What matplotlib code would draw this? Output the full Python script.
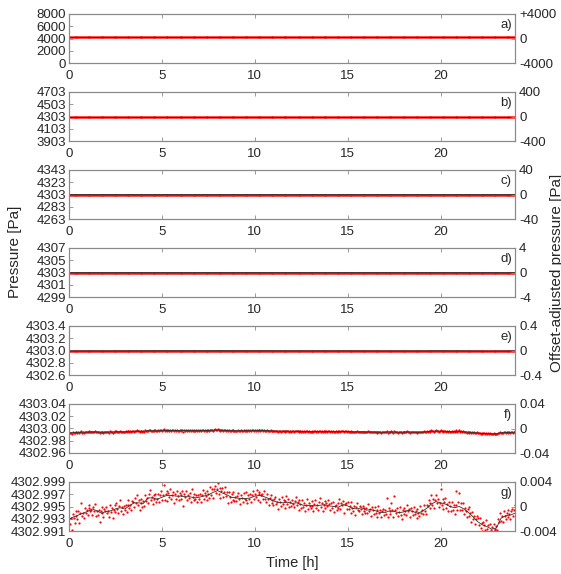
import numpy as np
import matplotlib
matplotlib.use('Agg')
import matplotlib.pyplot as plt

plt.rcParams['font.family'] = ['Liberation Sans', 'DejaVu Sans']

# smoothed pressure, offset from 4302.995 Pa in mPa, one value every 15 min (0..24 h)
line_mpa = [-2.1, -1.7, -1.4, -1.1, -0.8, -0.4, -0.7, -1.1, -0.8, -0.7, -0.4, -0.2,
            -0.4, 0.1, 0.6, 0.6, 0.5, 1.4, 1.4, 1.2, 1.5, 1.8, 1.8, 1.7,
            1.7, 1.6, 1.6, 1.4, 1.5, 1.7, 1.9, 2.3, 2.6, 2.2, 1.9, 1.5,
            1.4, 1.3, 1.3, 1.4, 1.7, 1.8, 1.6, 1.3, 0.9, 0.7, 0.6, 0.7,
            0.5, 0.6, 0.3, 0.1, 0.2, 0.1, 0.2, 0.3, 0.1, 0.0, -0.1, 0.3,
            0.1, -0.3, -0.4, -0.2, -0.6, -0.5, -0.7, -1.0, -1.0, -0.7, -0.8, -1.0,
            -0.9, -0.6, -0.8, -1.1, -0.8, -0.3, 0.4, 0.8, 0.6, 0.4, 0.0, -0.2,
            0.0, -0.4, -1.0, -1.7, -2.5, -3.0, -3.3, -3.7, -3.5, -1.9, -1.5, -1.4,
            -1.1]

# raw samples, offset from 4302.995 Pa in mPa, every 3 min (20 per hour)
raw_mpa = [
    -1.8, -2.8, -1.8, -3.8, -1.3, -1.9, -2.7, -0.7, -1.5, -2.0, -0.8, -2.7, -1.1, 0.6, -1.6, -1.0, -1.9, -0.3, -1.0, -0.5,
    -1.4, -0.3, 0.2, -0.8, -0.5, -1.4, 0.0, -0.8, 0.4, -1.5, -0.7, -1.4, -0.5, -2.5, -0.8, -0.1, -1.1, -1.7, -0.4, -0.7,
    -0.1, -1.1, -0.7, -1.7, 0.3, -0.9, -0.2, -1.8, -0.5, 0.2, -0.9, 0.6, -0.4, -1.0, 0.1, 1.1, -0.7, -0.1, -1.3, 0.1,
    -0.6, 0.3, -0.9, 0.2, 1.0, -0.3, 0.3, -0.6, 0.9, 0.7, 0.0, 1.4, 0.5, 1.8, 0.3, 1.0, -0.5, 1.2, 0.5, 0.0,
    0.9, 0.1, 1.8, 0.9, 1.4, 0.6, 2.0, 2.7, 1.1, 1.6, 0.4, 1.9, 1.3, 2.1, 0.7, 1.2, 2.1, 0.7, 1.8, 2.5,
    1.1, 1.9, 3.5, 1.1, 2.0, 2.5, 0.9, 2.2, 1.6, 2.9, 1.3, 1.9, 2.4, 0.6, 2.0, 1.3, 2.6, 1.7, 1.0, 2.2,
    1.9, 1.2, 2.5, 0.1, 2.1, 1.6, 2.6, 1.0, 1.9, 1.4, 2.2, 0.7, 2.8, 1.6, 1.1, 2.1, 1.3, 1.9, 0.7, 1.8,
    1.2, 2.1, 0.8, 1.8, 2.7, 1.2, 2.2, 1.7, 1.0, 2.6, 2.0, 1.4, 3.2, 1.9, 2.8, 1.4, 2.8, 3.4, 2.2, 2.8,
    3.9, 2.1, 3.1, 1.4, 2.5, 3.1, 1.5, 2.4, 3.2, 1.7, 2.4, 0.6, 2.4, 1.6, 0.8, 2.1, 1.1, 2.4, 0.9, 1.6,
    0.9, 1.7, 2.2, 1.2, 0.4, 1.8, 1.4, 0.7, 2.2, 1.3, 1.0, 2.4, 0.5, 1.8, 1.3, 2.0, 0.8, 1.8, 2.6, 1.3,
    2.1, 1.5, 2.7, 1.1, 2.0, 2.4, 0.7, 1.8, 2.1, 1.2, 2.6, 1.3, 0.8, 2.0, 1.3, 0.3, 1.4, 1.8, 0.5, 1.1,
    0.3, 1.2, 1.5, 0.4, 0.7, -0.4, 1.2, 0.7, 0.1, 1.5, 0.4, 1.0, -0.2, 0.9, 1.7, 0.4, 1.3, -0.1, 0.7, 0.1,
    1.0, 0.4, -0.1, 0.9, 1.5, 0.2, 0.7, -0.6, 1.0, 0.4, -0.2, 1.1, -0.1, 0.6, -0.7, 0.3, 1.3, -0.4, 0.5, 0.1,
    -0.2, 0.9, 0.1, -0.7, 0.4, 1.0, -0.2, 0.3, -0.5, 0.7, 1.4, 0.0, 0.6, -0.7, 0.3, 0.9, -0.2, 0.5, 0.1, 1.0,
    0.4, -0.5, 0.6, -0.2, 0.8, -0.9, 0.1, 0.3, -0.6, 0.6, -0.2, 1.2, -0.4, 0.5, 0.2, 0.9, -1.0, 0.4, 0.6, -0.4,
    0.7, -0.4, 0.1, 0.7, -1.0, -0.2, -0.7, 0.1, -1.4, -0.1, 0.5, -0.5, -0.8, 0.1, -0.4, -1.3, 0.1, -0.7, -0.3, -1.1,
    -0.2, -1.1, 0.4, -0.8, -0.4, -1.5, -0.1, -0.6, -1.3, 0.0, -1.0, -0.5, -1.7, 0.1, -1.1, -0.6, -1.7, -0.8, -0.4, -1.4,
    -0.5, -1.3, 1.4, -1.7, -0.2, -0.8, -1.2, 0.5, -0.5, -1.7, 1.7, -0.5, -1.1, -0.3, -1.6, -0.9, -0.1, -1.4, -2.0, -0.6,
    -1.3, -0.3, -0.8, -1.4, 0.3, -0.8, -0.4, -1.7, -0.3, -0.7, -1.4, -0.1, -1.3, -0.8, -1.9, -0.4, -1.0, -1.5, 0.1, -1.0,
    -0.5, -1.3, 0.3, -0.7, -1.2, 0.3, 0.1, 1.1, -0.2, 0.5, 1.8, 0.2, 1.3, -0.3, 1.0, 1.9, 0.5, 1.2, -0.1, 0.6,
    2.9, 0.2, 1.2, -0.4, 0.7, 1.4, -0.2, 0.4, -0.8, 0.7, 0.1, -0.7, 0.8, -0.5, 0.2, -1.2, 2.5, 0.3, -0.5, 0.8,
    2.2, -0.6, 0.5, -0.5, 0.6, -1.2, -0.2, -0.7, -1.7, -0.4, 0.0, -1.6, -1.1, -2.6, -0.9, -2.0, -1.5, -2.8, -2.1, -1.5,
    -1.9, -3.0, -1.8, -3.5, -2.7, -4.0, -2.6, -3.1, -3.8, -2.2, -3.6, -3.0, -4.4, -2.9, -3.9, -3.4, -4.2, -2.8, -3.6, -3.9,
    -3.2, -3.9, -2.1, -2.5, -1.0, -2.3, -1.6, -2.5, -0.8, -1.5, -2.1, -1.1, -0.5, -1.7, -1.2, -2.1, -0.8, -0.4, -1.6, -0.6,
    0.3]

base = 4302.995
t_line = np.linspace(0, 24, len(line_mpa))
t_raw = np.linspace(0, 24, len(raw_mpa))
p_line = base + np.array(line_mpa) / 1000.0
p_raw = base + np.array(raw_mpa) / 1000.0

# one panel per zoom level
panel_names = ['a)', 'b)', 'c)', 'd)', 'e)', 'f)', 'g)']
centers = [4000, 4303, 4303, 4303, 4303.0, 4303.00, 4302.995]
half_ranges = [4000, 400, 40, 4, 0.4, 0.04, 0.004]
left_formats = ['%.0f', '%.0f', '%.0f', '%.0f', '%.1f', '%.2f', '%.3f']
right_labels = [['-4000', '0', '+4000'], ['-400', '0', '400'], ['-40', '0', '40'],
                ['-4', '0', '4'], ['-0.4', '0', '0.4'], ['-0.04', '0', '0.04'],
                ['-0.004', '0', '0.004']]
x_ticks = [0, 5, 10, 15, 20]

W, H = 561, 574
fig = plt.figure(figsize=(W / 100, H / 100), dpi=100)

frame_col = '#8a8a8a'
text_col = '#262626'

for i in range(7):
    top = 14 + 78 * i
    ax = fig.add_axes([69 / W, 1 - (top + 49) / H, 446 / W, 49 / H])

    # raw samples as red dots, smoothed series on top
    ax.plot(t_raw, p_raw, 'o', color='red', markersize=1.6, markeredgewidth=0)
    ax.plot(t_line, p_line, '-', color='#303030', linewidth=0.6)

    c = centers[i]
    h = half_ranges[i]
    ax.set_xlim(0, 24)
    ax.set_ylim(c - h, c + h)
    yt = [c - h, c - h / 2, c, c + h / 2, c + h]
    ax.set_yticks(yt)
    ax.set_yticklabels([left_formats[i] % v for v in yt])
    ax.set_xticks(x_ticks)
    ax.tick_params(axis='both', direction='in', length=3, width=0.6,
                   color=frame_col, labelcolor=text_col, labelsize=9.5, pad=2)
    ax.tick_params(axis='x', top=True, pad=5)
    for s in ax.spines.values():
        s.set_color(frame_col)
        s.set_linewidth(0.8)

    ax.text(0.993, 0.78, panel_names[i], transform=ax.transAxes, ha='right',
            va='center', fontsize=9.5, color=text_col)

    # offset-adjusted axis on the right
    ax2 = ax.twinx()
    ax2.set_ylim(-h, h)
    ax2.set_yticks([-h, 0, h])
    ax2.set_yticklabels(right_labels[i])
    ax2.tick_params(axis='y', direction='in', length=3, width=0.6,
                    color=frame_col, labelcolor=text_col, labelsize=9.5, pad=3)
    for s in ax2.spines.values():
        s.set_color(frame_col)
        s.set_linewidth(0.8)

fig.text(15 / W, 1 - 252 / H, 'Pressure [Pa]', rotation=90, ha='center', va='center',
         fontsize=11, color=text_col)
fig.text(550 / W, 1 - 273 / H, 'Offset-adjusted pressure [Pa]', rotation=90,
         ha='left', va='center', fontsize=11, color=text_col)
fig.text(292 / W, 1 - 563 / H, 'Time [h]', ha='center', va='center',
         fontsize=10.5, color=text_col)

fig.savefig('out.png', dpi=100, facecolor='white')
